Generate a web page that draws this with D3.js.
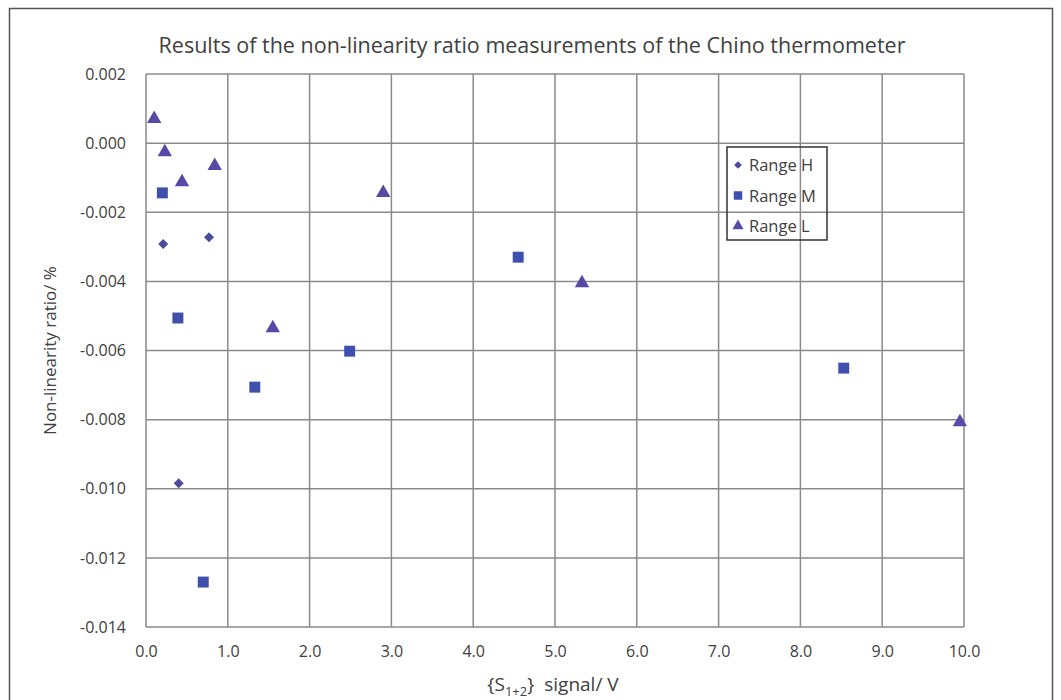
<!DOCTYPE html>
<html>
<head>
<meta charset="utf-8">
<script src="https://cdnjs.cloudflare.com/ajax/libs/d3/7.8.5/d3.min.js"></script>
<style>
  body { margin: 0; background: #fff; }
  text { font-family: "Open Sans", "Noto Sans", sans-serif; fill: #404040; }
</style>
</head>
<body>
<svg id="chart" width="1061" height="700"></svg>
<script>
// Range H / M / L measurements: [signal V, non-linearity %]
const rangeH = [[0.21, -0.00292], [0.77, -0.00272], [0.40, -0.00984]];
const rangeM = [[0.20, -0.00144], [0.39, -0.00506], [1.33, -0.00706], [2.49, -0.00602],
                [0.70, -0.01270], [4.55, -0.00330], [8.53, -0.00651]];
const rangeL = [[0.10, 0.00070], [0.23, -0.00026], [0.84, -0.00066], [0.44, -0.00113],
                [1.55, -0.00535], [2.90, -0.00144], [5.33, -0.00405], [9.95, -0.00807]];
const seriesNames = ['Range H', 'Range M', 'Range L'];
const xTicks = [0, 1, 2, 3, 4, 5, 6, 7, 8, 9, 10];
const yTicks = [0.002, 0, -0.002, -0.004, -0.006, -0.008, -0.010, -0.012, -0.014];

const svg = d3.select('#chart');
const plotL = 146, plotR = 964, plotT = 74, plotB = 627;

const x = d3.scaleLinear().domain([0, 10]).range([plotL, plotR]);
const y = d3.scaleLinear().domain([-0.014, 0.002]).range([plotB, plotT]);

// outer frame
svg.append('rect')
  .attr('x', 9.5).attr('y', 8.5)
  .attr('width', 1043).attr('height', 720)
  .attr('fill', 'none').attr('stroke', '#555').attr('stroke-width', 1.5);

svg.append('text')
  .attr('x', 532).attr('y', 53)
  .attr('text-anchor', 'middle')
  .style('font-size', '21.5px')
  .text('Results of the non-linearity ratio measurements of the Chino thermometer');

// grid
const gridColor = '#8a8a8a';
svg.append('g').selectAll('line')
  .data(xTicks)
  .enter().append('line')
  .attr('x1', d => x(d)).attr('x2', d => x(d))
  .attr('y1', plotT).attr('y2', plotB)
  .attr('stroke', gridColor).attr('stroke-width', 1.5);

svg.append('g').selectAll('line')
  .data(yTicks)
  .enter().append('line')
  .attr('x1', plotL).attr('x2', plotR)
  .attr('y1', d => y(d)).attr('y2', d => y(d))
  .attr('stroke', gridColor).attr('stroke-width', 1.5);

// axes (labels only, lines are the grid)
const xAxis = svg.append('g')
  .attr('transform', `translate(0,${plotB})`)
  .call(d3.axisBottom(x).tickValues(xTicks).tickFormat(d3.format('.1f')).tickSize(0).tickPadding(19));
const yAxis = svg.append('g')
  .attr('transform', `translate(${plotL},0)`)
  .call(d3.axisLeft(y).tickValues(yTicks).tickFormat(d => d3.format('.3f')(d).replace('−', '-')).tickSize(0).tickPadding(20));
[xAxis, yAxis].forEach(a => {
  a.select('.domain').remove();
  a.selectAll('text').style('font-size', '16px').attr('fill', '#404040')
    .style('font-family', '"Open Sans", "Noto Sans", sans-serif');
});

// axis titles
const xt = svg.append('text')
  .attr('x', 553).attr('y', 691)
  .attr('text-anchor', 'middle')
  .style('font-size', '19px');
xt.append('tspan').text('{S');
xt.append('tspan').attr('dy', 5).style('font-size', '13px').text('1+2');
xt.append('tspan').attr('dy', -5).text('}\u00a0\u00a0signal/ V');

svg.append('text')
  .attr('transform', `translate(56,${(plotT + plotB) / 2}) rotate(-90)`)
  .attr('text-anchor', 'middle')
  .style('font-size', '17px')
  .text('Non-linearity ratio/ %');

// markers: H is a square turned 45 deg (diamond)
const colors = ['#4b4b9c', '#3f4fae', '#574aa6'];
const symbols = [d3.symbolSquare, d3.symbolSquare, d3.symbolTriangle];
const sizes = [50, 120, 90];
const rot = [45, 0, 0];

[rangeH, rangeM, rangeL].forEach((data, i) => {
  svg.append('g').selectAll('path')
    .data(data)
    .enter().append('path')
    .attr('transform', d => `translate(${x(d[0])},${y(d[1])}) rotate(${rot[i]})`)
    .attr('d', d3.symbol().type(symbols[i]).size(sizes[i]))
    .attr('fill', colors[i]);
});

// legend (transparent box)
const lg = svg.append('g').attr('transform', 'translate(727,147)');
lg.append('rect')
  .attr('width', 100).attr('height', 93)
  .attr('fill', 'none').attr('stroke', '#333').attr('stroke-width', 1.5);
seriesNames.forEach((name, i) => {
  const row = lg.append('g').attr('transform', `translate(0,${18 + i * 30.5})`);
  row.append('path')
    .attr('transform', `translate(11,0) rotate(${rot[i]})`)
    .attr('d', d3.symbol().type(symbols[i]).size(sizes[i] * 0.6))
    .attr('fill', colors[i]);
  row.append('text')
    .attr('x', 22).attr('y', 6)
    .style('font-size', '16.5px')
    .text(name);
});
</script>
</body>
</html>
